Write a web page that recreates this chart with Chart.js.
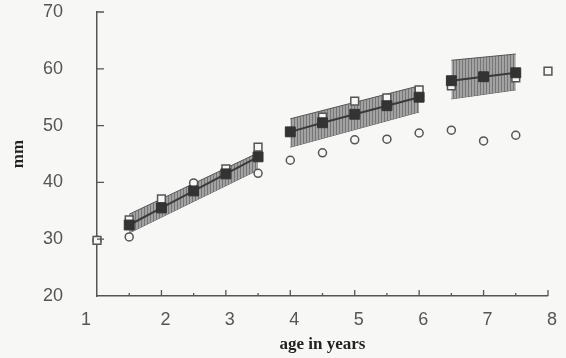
<!DOCTYPE html>
<html>
<head>
<meta charset="utf-8">
<script src="https://cdn.jsdelivr.net/npm/chart.js@4"></script>
<style>
  body { margin: 0; background: #f7f7f5; }
  #wrap { width: 566px; height: 358px; position: relative; }
</style>
</head>
<body>
<div id="wrap"><canvas id="growthChart"></canvas></div>
<script>
// --- donnees ---
const AGES_1 = [1.5, 2, 2.5, 3, 3.5];
const MEAN_1 = [32.5, 35.5, 38.5, 41.5, 44.5];
const AGES_2 = [4, 4.5, 5, 5.5, 6];
const MEAN_2 = [48.9, 50.5, 52.0, 53.5, 55.0];
const AGES_3 = [6.5, 7, 7.5];
const MEAN_3 = [57.9, 58.6, 59.3];

// bandes (bornes aux extremites de chaque segment)
const BAND_X_1 = [1.5, 3.5];
const BAND_UP_1 = [34.4, 45.2];
const BAND_LO_1 = [31.1, 42.2];
const BAND_X_2 = [4, 6];
const BAND_UP_2 = [51.2, 57.0];
const BAND_LO_2 = [46.2, 52.4];
const BAND_X_3 = [6.5, 7.5];
const BAND_UP_3 = [61.5, 62.6];
const BAND_LO_3 = [54.7, 56.3];

const SQUARE_AGES = [1, 1.5, 2, 3, 3.5, 4.5, 5, 5.5, 6, 6.5, 7.5, 8];
const SQUARE_VALS = [29.8, 33.4, 37.1, 42.4, 46.2, 51.5, 54.3, 54.9, 56.3, 57.0, 58.4, 59.6];
const CIRCLE_AGES = [1, 1.5, 2.5, 3.5, 4, 4.5, 5, 5.5, 6, 6.5, 7, 7.5];
const CIRCLE_VALS = [29.8, 30.4, 39.9, 41.6, 43.9, 45.2, 47.5, 47.6, 48.7, 49.2, 47.3, 48.3];

const X_TICKS = [1, 2, 3, 4, 5, 6, 7, 8];
const Y_TICKS = [20, 30, 40, 50, 60, 70];

const INK = '#3a3a3a';
const GREY_TEXT = '#555555';
const PAPER = '#f7f7f5';

const pts = (xs, ys) => xs.map((x, i) => ({ x: x, y: ys[i] }));

// motif hachure verticale pour les bandes
function hatchPattern() {
    const c = document.createElement('canvas');
    c.width = 3; c.height = 3;
    const g = c.getContext('2d');
    g.fillStyle = '#a2a2a2';
    g.fillRect(0, 0, 3, 3);
    g.fillStyle = '#767676';
    g.fillRect(0, 0, 1, 3);
    return g.createPattern(c, 'repeat');
}
const HATCH = hatchPattern();

function meanSet(xs, ys) {
    return {
        data: pts(xs, ys), showLine: true, borderColor: INK, borderWidth: 2,
        pointStyle: 'rect', pointRadius: 7, pointBackgroundColor: '#333',
        pointBorderColor: '#333', pointBorderWidth: 1, fill: false, order: 1
    };
}
function bandSets(xs, up, lo) {
    return [
        { data: pts(xs, up), showLine: true, borderColor: '#555', borderWidth: 1,
          pointRadius: 0, fill: '+1', backgroundColor: HATCH, order: 5 },
        { data: pts(xs, lo), showLine: true, borderColor: '#555', borderWidth: 1,
          pointRadius: 0, fill: false, order: 5 }
    ];
}

// petites graduations vers l'interieur
const innerTicks = {
    id: 'innerTicks',
    afterDatasetsDraw(chart) {
        const { ctx, scales: { x, y } } = chart;
        ctx.save();
        ctx.strokeStyle = '#555';
        ctx.lineWidth = 1.3;
        ctx.beginPath();
        for (let v = 1.5; v <= 8; v += 0.5) {
            const px = x.getPixelForValue(v);
            const len = Number.isInteger(v) ? 6 : 3;
            ctx.moveTo(px, y.bottom);
            ctx.lineTo(px, y.bottom - len);
        }
        Y_TICKS.slice(1).forEach(v => {
            const py = y.getPixelForValue(v);
            ctx.moveTo(x.left, py);
            ctx.lineTo(x.left + 7, py);
        });
        ctx.stroke();
        ctx.restore();
    }
};

const datasets = [
    meanSet(AGES_1, MEAN_1),
    meanSet(AGES_2, MEAN_2),
    meanSet(AGES_3, MEAN_3),
    { data: pts(SQUARE_AGES, SQUARE_VALS), showLine: false, pointStyle: 'rect',
      pointRadius: 5.5, pointBackgroundColor: PAPER, pointBorderColor: '#555',
      pointBorderWidth: 1.5, order: 2 },
    { data: pts(CIRCLE_AGES, CIRCLE_VALS), showLine: false, pointStyle: 'circle',
      pointRadius: 4, pointBackgroundColor: PAPER, pointBorderColor: '#555',
      pointBorderWidth: 1.5, order: 2 },
    ...bandSets(BAND_X_1, BAND_UP_1, BAND_LO_1),
    ...bandSets(BAND_X_2, BAND_UP_2, BAND_LO_2),
    ...bandSets(BAND_X_3, BAND_UP_3, BAND_LO_3)
];

new Chart(document.getElementById('growthChart'), {
    type: 'scatter',
    data: { datasets: datasets },
    options: {
        responsive: true,
        maintainAspectRatio: false,
        animation: false,
        clip: false,
        layout: { padding: { top: 12, right: 7, left: 0, bottom: 0 } },
        plugins: { legend: { display: false }, tooltip: { enabled: false } },
        scales: {
            x: {
                type: 'linear', min: 1, max: 8,
                afterBuildTicks: s => { s.ticks = X_TICKS.map(v => ({ value: v })); },
                afterFit: s => { s.height = 62; },
                grid: { drawOnChartArea: false, drawTicks: false },
                border: { display: true, color: '#555', width: 1.5 },
                ticks: { padding: 13, labelOffset: 4, color: GREY_TEXT,
                         // le "1" est decale a gauche de l'axe sur l'original
                         callback: v => v === 1 ? '1      ' : String(v),
                         font: { family: 'Liberation Sans', size: 18 } },
                title: { display: true, text: 'age in years', color: '#222',
                         padding: { top: 0, bottom: 3 },
                         font: { family: 'Liberation Serif', size: 17, weight: 'bold' } }
            },
            y: {
                type: 'linear', min: 20, max: 70,
                afterBuildTicks: s => { s.ticks = Y_TICKS.map(v => ({ value: v })); },
                afterFit: s => { s.width = 97; s.paddingTop = 8; s.paddingBottom = 8; },
                grid: { drawOnChartArea: false, drawTicks: false },
                border: { display: true, color: '#555', width: 1.5 },
                ticks: { padding: 34, color: GREY_TEXT,
                         font: { family: 'Liberation Sans', size: 18 } },
                title: { display: true, text: 'mm', color: '#222',
                         padding: { top: 8, bottom: 0 },
                         font: { family: 'Liberation Serif', size: 17, weight: 'bold' } }
            }
        }
    },
    plugins: [innerTicks]
});
</script>
</body>
</html>
